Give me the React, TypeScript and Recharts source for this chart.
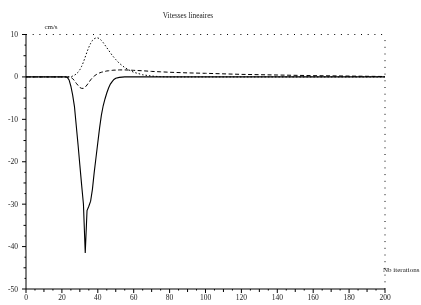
import React from "react";
import { LineChart, Line, XAxis, YAxis, ReferenceLine } from "recharts";

const iterations = [
  0, 10, 20, 22, 23, 24, 25, 26, 27, 28, 29, 30, 31, 32, 33, 34, 35, 36, 37, 38, 39, 40, 41, 42, 43, 44, 45,
  46, 47, 48, 49, 50, 52, 55, 58, 60, 65, 70, 75, 80, 90, 100, 120, 140, 160, 180, 200,
];

// trait plein
const vitesseA = [
  0, 0, 0, 0, -0.1, -0.7, -2.2, -4.3, -7, -11.5, -16, -20.8, -25.5, -30, -41.5, -31.5, -30.5, -29.3, -26.5,
  -22.5, -19, -15.5, -12, -9, -6.8, -5.2, -3.8, -2.6, -1.7, -1.1, -0.6, -0.3, -0.1, 0, 0, 0, 0, 0, 0, 0, 0, 0,
  0, 0, 0, 0, 0,
];

// pointilles
const vitesseB = [
  0, 0, 0, 0, 0, 0, 0.05, 0.2, 0.4, 0.7, 1.1, 1.7, 2.5, 3.5, 4.7, 5.9, 7.0, 7.9, 8.6, 9.0, 9.2, 9.2, 9.0, 8.6,
  8.1, 7.5, 6.9, 6.3, 5.7, 5.1, 4.6, 4.1, 3.2, 2.2, 1.5, 1.1, 0.5, 0.2, 0.05, 0, 0, 0, 0, 0, 0, 0, 0,
];

// tirets
const vitesseC = [
  0, 0, 0, 0, 0, 0, -0.1, -0.4, -0.9, -1.5, -2.0, -2.5, -2.7, -2.7, -2.4, -1.9, -1.3, -0.7, -0.2, 0.2, 0.5,
  0.8, 0.95, 1.1, 1.2, 1.3, 1.4, 1.45, 1.5, 1.55, 1.6, 1.6, 1.65, 1.65, 1.6, 1.55, 1.45, 1.3, 1.2, 1.1, 0.95,
  0.85, 0.6, 0.45, 0.3, 0.2, 0.1,
];

const xTicks = Array.from({ length: 41 }, (_, i) => i * 5);
const yTicks = Array.from({ length: 25 }, (_, i) => -50 + i * 2.5);

const data = iterations.map((it, i) => ({
  it,
  a: vitesseA[i],
  b: vitesseB[i],
  c: vitesseC[i],
}));

const FONT = "'Liberation Serif', 'DejaVu Serif', serif";

const XTick = (props: any) => {
  const { x, y, payload } = props;
  const v = payload.value;
  const len = v % 20 === 0 ? 4 : v % 10 === 0 ? 3 : 1.5;
  return (
    <g>
      <line x1={x} x2={x} y1={y} y2={y + len} stroke="#000" strokeWidth={1} />
      {v % 20 === 0 && (
        <text x={x} y={y + 10.5} textAnchor="middle" fontSize={7.5} fontFamily={FONT} fill="#222">
          {v}
        </text>
      )}
    </g>
  );
};

const YTick = (props: any) => {
  const { x, y, payload } = props;
  const v = payload.value;
  const len = v % 10 === 0 ? 4 : v % 5 === 0 ? 2.5 : 1.5;
  return (
    <g>
      <line x1={x - len} x2={x} y1={y} y2={y} stroke="#000" strokeWidth={1} />
      {v % 10 === 0 && (
        <text x={x - 8} y={y + 2.5} textAnchor="end" fontSize={7.5} fontFamily={FONT} fill="#222">
          {v}
        </text>
      )}
    </g>
  );
};

export default function App() {
  return (
    <div
      style={{
        position: "absolute",
        left: 0,
        top: 0,
        width: 421,
        height: 305,
        background: "#fff",
        willChange: "transform",
      }}
    >
      <LineChart
        width={421}
        height={305}
        data={data}
        margin={{ top: 34.5, right: 36, left: 0, bottom: 0 }}
      >
        <XAxis
          dataKey="it"
          type="number"
          domain={[0, 200]}
          ticks={xTicks}
          interval={0}
          height={16}
          tickSize={0}
          tickMargin={0}
          tickLine={false}
          axisLine={{ stroke: "#000", strokeWidth: 1 }}
          tick={<XTick />}
        />
        <YAxis
          type="number"
          domain={[-50, 10]}
          ticks={yTicks}
          interval={0}
          width={26}
          tickSize={0}
          tickMargin={0}
          tickLine={false}
          axisLine={{ stroke: "#000", strokeWidth: 1 }}
          tick={<YTick />}
        />
        <ReferenceLine y={10} stroke="#000" strokeDasharray="1 5.7" />
        <ReferenceLine x={200} stroke="#000" strokeDasharray="1 5.7" />
        <Line
          type="linear"
          dataKey="c"
          stroke="#000"
          strokeWidth={1}
          strokeDasharray="4 2.5"
          dot={false}
          isAnimationActive={false}
        />
        <Line
          type="linear"
          dataKey="b"
          stroke="#000"
          strokeWidth={1}
          strokeDasharray="1.5 2"
          dot={false}
          isAnimationActive={false}
        />
        <Line
          type="linear"
          dataKey="a"
          stroke="#000"
          strokeWidth={1.1}
          dot={false}
          isAnimationActive={false}
        />
      </LineChart>
      <svg
        width={421}
        height={305}
        style={{ position: "absolute", left: 0, top: 0, pointerEvents: "none" }}
      >
        <text x={188} y={17.5} textAnchor="middle" fontSize={7.3} fontFamily={FONT} fill="#222">
          Vitesses lineaires
        </text>
        <text x={51} y={28.5} textAnchor="middle" fontSize={7} fontFamily={FONT} fill="#222">
          cm/s
        </text>
        <text x={383} y={271.5} fontSize={7} fontFamily={FONT} fill="#222">
          Nb iterations
        </text>
      </svg>
    </div>
  );
}
